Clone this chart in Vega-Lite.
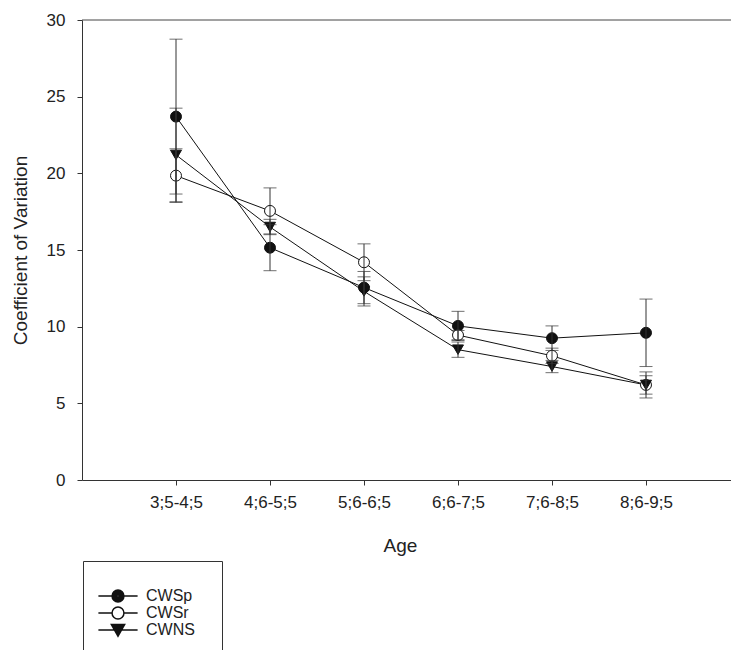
{
  "$schema": "https://vega.github.io/schema/vega-lite/v6.json",
  "autosize": "none",
  "width": 649,
  "height": 460,
  "padding": {"left": 82, "top": 20, "right": 0, "bottom": 170},
  "background": "white",
  "data": {
    "values": [
      {"age": "3;5-4;5", "series": "CWSp", "mean": 23.7, "lo": 18.65, "hi": 28.75},
      {"age": "4;6-5;5", "series": "CWSp", "mean": 15.15, "lo": 13.65, "hi": 16.65},
      {"age": "5;6-6;5", "series": "CWSp", "mean": 12.55, "lo": 11.5, "hi": 13.6},
      {"age": "6;6-7;5", "series": "CWSp", "mean": 10.05, "lo": 9.1, "hi": 11.0},
      {"age": "7;6-8;5", "series": "CWSp", "mean": 9.25, "lo": 8.45, "hi": 10.05},
      {"age": "8;6-9;5", "series": "CWSp", "mean": 9.6, "lo": 7.4, "hi": 11.8},
      {"age": "3;5-4;5", "series": "CWSr", "mean": 19.85, "lo": 18.1, "hi": 21.6},
      {"age": "4;6-5;5", "series": "CWSr", "mean": 17.55, "lo": 16.05, "hi": 19.05},
      {"age": "5;6-6;5", "series": "CWSr", "mean": 14.2, "lo": 13.0, "hi": 15.4},
      {"age": "6;6-7;5", "series": "CWSr", "mean": 9.45, "lo": 9.15, "hi": 9.75},
      {"age": "7;6-8;5", "series": "CWSr", "mean": 8.1, "lo": 7.6, "hi": 8.6},
      {"age": "8;6-9;5", "series": "CWSr", "mean": 6.2, "lo": 5.35, "hi": 7.05},
      {"age": "3;5-4;5", "series": "CWNS", "mean": 21.2, "lo": 18.15, "hi": 24.25},
      {"age": "4;6-5;5", "series": "CWNS", "mean": 16.5, "lo": 16.0, "hi": 17.0},
      {"age": "5;6-6;5", "series": "CWNS", "mean": 12.3, "lo": 11.35, "hi": 13.25},
      {"age": "6;6-7;5", "series": "CWNS", "mean": 8.5, "lo": 8.0, "hi": 9.0},
      {"age": "7;6-8;5", "series": "CWNS", "mean": 7.4, "lo": 7.0, "hi": 7.8},
      {"age": "8;6-9;5", "series": "CWNS", "mean": 6.2, "lo": 5.6, "hi": 6.8}
    ]
  },
  "encoding": {
    "x": {
      "field": "age",
      "type": "ordinal",
      "sort": null,
      "scale": {"type": "point", "padding": 1, "range": [0, 658]},
      "axis": {"title": "Age", "labelAngle": 0, "titleX": 318}
    }
  },
  "layer": [
    {
      "data": {"values": [{"top": 30}]},
      "mark": {"type": "rule", "color": "#444", "strokeWidth": 1},
      "encoding": {
        "x": null,
        "y": {"field": "top", "type": "quantitative"}
      }
    },
    {
      "mark": {"type": "line", "color": "#111", "strokeWidth": 1},
      "encoding": {
        "y": {"field": "mean", "type": "quantitative"},
        "detail": {"field": "series"}
      }
    },
    {
      "mark": {"type": "point", "filled": false, "size": 0, "opacity": 0, "stroke": "#111", "strokeWidth": 1},
      "encoding": {
        "y": {"field": "mean", "type": "quantitative"},
        "shape": {
          "field": "series",
          "type": "nominal",
          "scale": {
            "domain": ["CWSp", "CWSr", "CWNS"],
            "range": [
              "M-2.8,0H-0.85A0.85,0.85 0 1,1 0.85,0H2.8M0.85,0A0.85,0.85 0 1,1 -0.85,0M0.72,0A0.72,0.72 0 1,1 -0.72,0A0.72,0.72 0 1,1 0.72,0M0.58,0A0.58,0.58 0 1,1 -0.58,0A0.58,0.58 0 1,1 0.58,0M0.44,0A0.44,0.44 0 1,1 -0.44,0A0.44,0.44 0 1,1 0.44,0M0.3,0A0.3,0.3 0 1,1 -0.3,0A0.3,0.3 0 1,1 0.3,0M0.16,0A0.16,0.16 0 1,1 -0.16,0A0.16,0.16 0 1,1 0.16,0M0.05,0A0.05,0.05 0 1,1 -0.05,0A0.05,0.05 0 1,1 0.05,0",
              "M-2.8,0H-0.85A0.85,0.85 0 1,1 0.85,0H2.8M0.85,0A0.85,0.85 0 1,1 -0.85,0",
              "M-2.8,0H2.8M-0.95,-0.8L0.95,-0.8L0,0.9ZM-0.76,-0.687L0.76,-0.687L0,0.673ZM-0.57,-0.573L0.57,-0.573L0,0.447ZM-0.38,-0.46L0.38,-0.46L0,0.22ZM-0.19,-0.346L0.19,-0.346L0,-0.006Z"
            ]
          },
          "legend": {
            "symbolSize": 196,
            "encode": {
              "symbols": {
                "stroke": {"value": "#111"},
                "strokeWidth": {"value": 1},
                "opacity": {"value": 1},
                "size": {"value": 196}
              }
            }
          }
        }
      }
    },
    {
      "mark": {"type": "point", "filled": false, "size": 120, "opacity": 1, "stroke": "#111", "strokeWidth": 1},
      "encoding": {
        "y": {"field": "mean", "type": "quantitative"},
        "shape": {
          "field": "series",
          "type": "nominal",
          "scale": {"domain": ["CWSp", "CWSr", "CWNS"], "range": ["circle", "circle", "triangle-down"]},
          "legend": null
        },
        "fill": {
          "field": "series",
          "type": "nominal",
          "scale": {"domain": ["CWSp", "CWSr", "CWNS"], "range": ["#111111", "#ffffff", "#111111"]},
          "legend": null
        }
      }
    },
    {
      "mark": {"type": "rule", "color": "#333", "strokeWidth": 1},
      "encoding": {
        "y": {"field": "lo", "type": "quantitative"},
        "y2": {"field": "hi"}
      }
    },
    {
      "mark": {"type": "tick", "color": "#333", "size": 13, "thickness": 1},
      "encoding": {
        "y": {"field": "lo", "type": "quantitative"}
      }
    },
    {
      "mark": {"type": "tick", "color": "#333", "size": 13, "thickness": 1},
      "encoding": {
        "y": {
          "field": "hi",
          "type": "quantitative",
          "scale": {"domain": [0, 30], "nice": false},
          "axis": {"title": "Coefficient of Variation", "values": [0, 5, 10, 15, 20, 25, 30], "grid": false}
        }
      }
    }
  ],
  "resolve": {"scale": {"shape": "independent"}},
  "config": {
    "view": {"stroke": null},
    "font": "Liberation Sans",
    "axis": {
      "grid": false,
      "domainColor": "#333",
      "tickColor": "#333",
      "tickSize": 5,
      "labelFont": "Liberation Sans",
      "labelFontSize": 17,
      "labelColor": "#222",
      "titleFont": "Liberation Sans",
      "titleFontSize": 19,
      "titleFontWeight": "normal",
      "titleColor": "#222"
    },
    "axisX": {"labelPadding": 9, "titlePadding": 26},
    "axisY": {"labelPadding": 12, "titlePadding": 16},
    "legend": {
      "orient": "none",
      "legendX": 1,
      "legendY": 541,
      "title": null,
      "strokeColor": "#333",
      "padding": 27,
      "labelFont": "Liberation Sans",
      "labelFontSize": 16,
      "labelColor": "#222",
      "labelOffset": 20,
      "rowPadding": -2
    }
  }
}
